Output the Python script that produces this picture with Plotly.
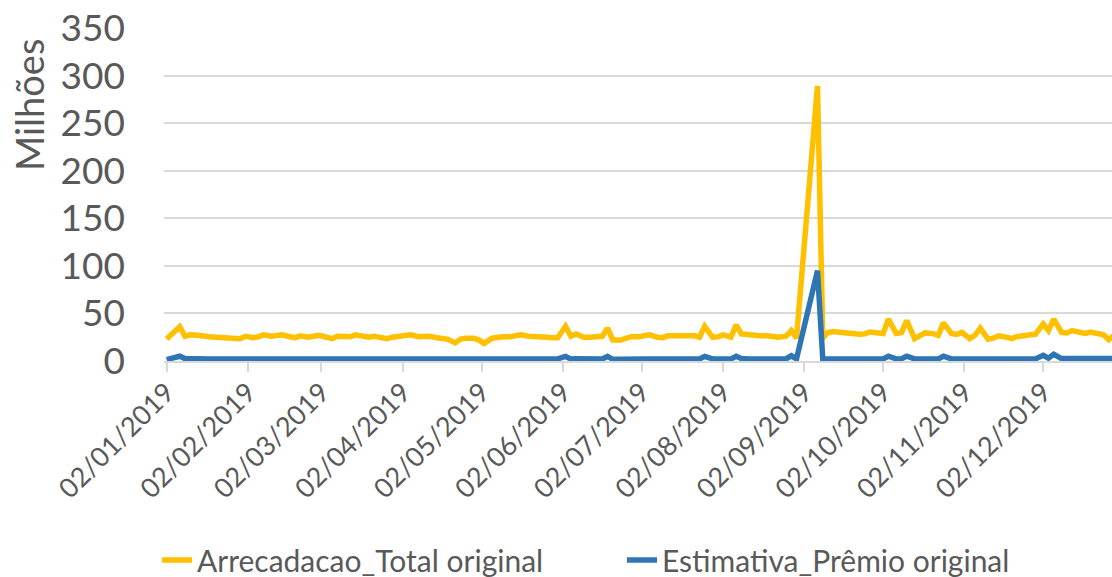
import pandas as pd
import plotly.graph_objects as go

# Draw dates (Mon/Wed/Fri), with the special draw on 07/09 replacing the 02-06/09 draws
all_days = pd.date_range("2019-01-02", "2019-12-30")
draw_dates = [d for d in all_days
              if d.weekday() in (0, 2, 4)
              and not (pd.Timestamp("2019-09-02") <= d <= pd.Timestamp("2019-09-06"))]
draw_dates.append(pd.Timestamp("2019-09-07"))
draw_dates = sorted(draw_dates)

# Arrecadacao_Total original (millions), per month
jan_total = [23, 28, 36, 26, 27.5, 27, 26, 25.5, 25, 24.5, 24, 24, 23.5]
feb_total = [26, 24.5, 25.5, 27.5, 26, 26.5, 27.5, 25.5, 24.5, 26.5, 25, 26]
mar_total = [27, 25, 23.5, 26, 26.5, 25.5, 27.5, 26, 25, 26, 24.5, 23.5, 25]
apr_total = [26, 26, 27.5, 25.5, 26, 26, 24.5, 24, 23, 19, 23, 24, 24]
may_total = [22, 18.5, 24, 25, 25.5, 25.5, 26.5, 27.5, 26, 26, 26, 25, 24.5, 24.5]
jun_total = [36.5, 26, 28.5, 25, 25, 25, 26, 34.5, 22, 22, 24.5, 25.5]
jul_total = [25.5, 26, 27.5, 25, 24.5, 26.5, 27, 26, 26.5, 26.5, 25, 36.5, 25, 25.5]
aug_total = [27.5, 25, 38, 28.5, 27.5, 26.5, 26.5, 26.5, 25, 25, 26, 32, 24]
sep_total = [289, 24, 30, 31, 29.5, 29, 28.8, 28, 28.5, 30.5, 29]
oct_total = [29, 44, 29, 30, 42.5, 23.5, 27, 29.5, 28.8, 27, 40, 29, 28]
nov_total = [30, 23.5, 27, 34.5, 23, 24, 26.5, 25, 23.5, 25.5, 27.5, 27.5, 28]
dec_total = [39, 32, 44, 30, 29.5, 32, 30.5, 29, 30.5, 29.5, 27.5, 22.5, 29]

# Estimativa_Prêmio original (millions), per month
jan_prize = [1.5, 3.5, 5, 2.5, 2.2, 2.2, 2.2, 2.2, 2.2, 2.2, 2.2, 2.2, 2.2]
feb_prize = [2.2, 2.2, 2.2, 2.2, 2.2, 2.2, 2.2, 2.2, 2.2, 2.2, 2.2, 2.2]
mar_prize = [2.2, 2.2, 2.2, 2.2, 2.2, 2.2, 2.2, 2.2, 2.2, 2.2, 2.2, 2.2, 2.2]
apr_prize = [2.2, 2.2, 2.2, 2.2, 2.2, 2.2, 2.2, 2.2, 2.0, 1.5, 2.0, 2.2, 2.2]
may_prize = [2.0, 1.5, 2.0, 2.2, 2.2, 2.2, 2.2, 2.2, 2.2, 2.2, 2.2, 2.2, 2.2, 2.2]
jun_prize = [4.8, 2.2, 2.4, 2.2, 2.2, 2.2, 2.2, 4.8, 1.8, 1.8, 2.2, 2.2]
jul_prize = [2.2, 2.2, 2.2, 2.2, 2.2, 2.2, 2.2, 2.2, 2.2, 2.2, 2.2, 4.8, 2.2, 2.2]
aug_prize = [2.2, 2.2, 5, 2.5, 2.2, 2.2, 2.2, 2.2, 2.2, 2.2, 2.2, 5.5, 2.2]
sep_prize = [95, 2.2, 2.2, 2.2, 2.2, 2.2, 2.2, 2.2, 2.2, 2.2, 2.2]
oct_prize = [2.2, 5, 2.2, 2.4, 5, 2.2, 2.2, 2.2, 2.2, 2.2, 5, 2.2, 2.2]
nov_prize = [2.2, 2.2, 2.2, 2.4, 1.8, 2.0, 2.2, 2.2, 2.2, 2.2, 2.2, 2.2, 2.2]
dec_prize = [6, 3, 7, 2.5, 2.5, 2.5, 2.5, 2.5, 2.5, 2.5, 2.5, 2.5, 2.5]

total = (jan_total + feb_total + mar_total + apr_total + may_total + jun_total +
         jul_total + aug_total + sep_total + oct_total + nov_total + dec_total)
prize = (jan_prize + feb_prize + mar_prize + apr_prize + may_prize + jun_prize +
         jul_prize + aug_prize + sep_prize + oct_prize + nov_prize + dec_prize)
assert len(total) == len(draw_dates) == len(prize), (len(total), len(prize), len(draw_dates))

# Axis ticks on the 2nd of each month
tick_dates = pd.date_range("2019-01-01", "2019-12-01", freq="MS") + pd.Timedelta(days=1)
tick_labels = [d.strftime("%d/%m/%Y") for d in tick_dates]

series_names = ["Arrecadacao_Total original", "Estimativa_Prêmio original"]
series_colors = ["#FFC000", "#2E75B6"]

FONT = "Lato"
TXT = "#595959"
GRID = "#D9D9D9"

L, T, B = 164, 28, 216
PW, PH = 1112 - L, 577 - T - B

fig = go.Figure()
fig.add_trace(go.Scatter(x=draw_dates, y=total, mode="lines", name=series_names[0],
                         line=dict(color=series_colors[0], width=5.5, shape="linear")))
fig.add_trace(go.Scatter(x=draw_dates, y=prize, mode="lines", name=series_names[1],
                         line=dict(color=series_colors[1], width=5.5, shape="linear")))

fig.update_layout(
    width=1112, height=577,
    margin=dict(l=L, r=0, t=T, b=B, pad=0, autoexpand=False),
    paper_bgcolor="white", plot_bgcolor="white",
    font=dict(family=FONT, color=TXT),
    showlegend=True,
    legend=dict(orientation="h", x=(157 - L) / PW, xanchor="left",
                y=(577 - B - 560) / PH, yanchor="middle",
                font=dict(size=30, color=TXT, family=FONT),
                entrywidth=420, entrywidthmode="pixels",
                bgcolor="rgba(0,0,0,0)"),
    xaxis=dict(
        type="date", automargin=False,
        range=["2019-01-01", "2019-12-28 05:00"],
        tickmode="array", tickvals=list(tick_dates), ticktext=tick_labels,
        tickangle=-45, tickfont=dict(size=27, color=TXT, family=FONT),
        ticks="outside", ticklen=9, tickcolor=GRID, tickwidth=1.5,
        ticklabelstandoff=-6,
        showline=True, linecolor=GRID, linewidth=1.5,
        showgrid=False, zeroline=False,
    ),
    yaxis=dict(
        automargin=False,
        range=[0, 350], dtick=50, tick0=0,
        tickfont=dict(size=37, color=TXT, family=FONT),
        showgrid=True, gridcolor=GRID, gridwidth=1.5,
        zeroline=False, showline=False, ticks="",
        ticklabelstandoff=38,
    ),
    annotations=[dict(
        text="Milhões", textangle=-90, showarrow=False,
        xref="paper", yref="paper",
        x=(29 - L) / PW, y=(577 - B - 105) / PH,
        xanchor="center", yanchor="middle",
        font=dict(size=38, color=TXT, family=FONT),
    )],
)

fig.write_html(
    "out.html",
    config={"displayModeBar": False},
    post_script="document.body.style.margin='0';document.body.style.padding='0';"
                "document.body.style.overflow='hidden';",
)
